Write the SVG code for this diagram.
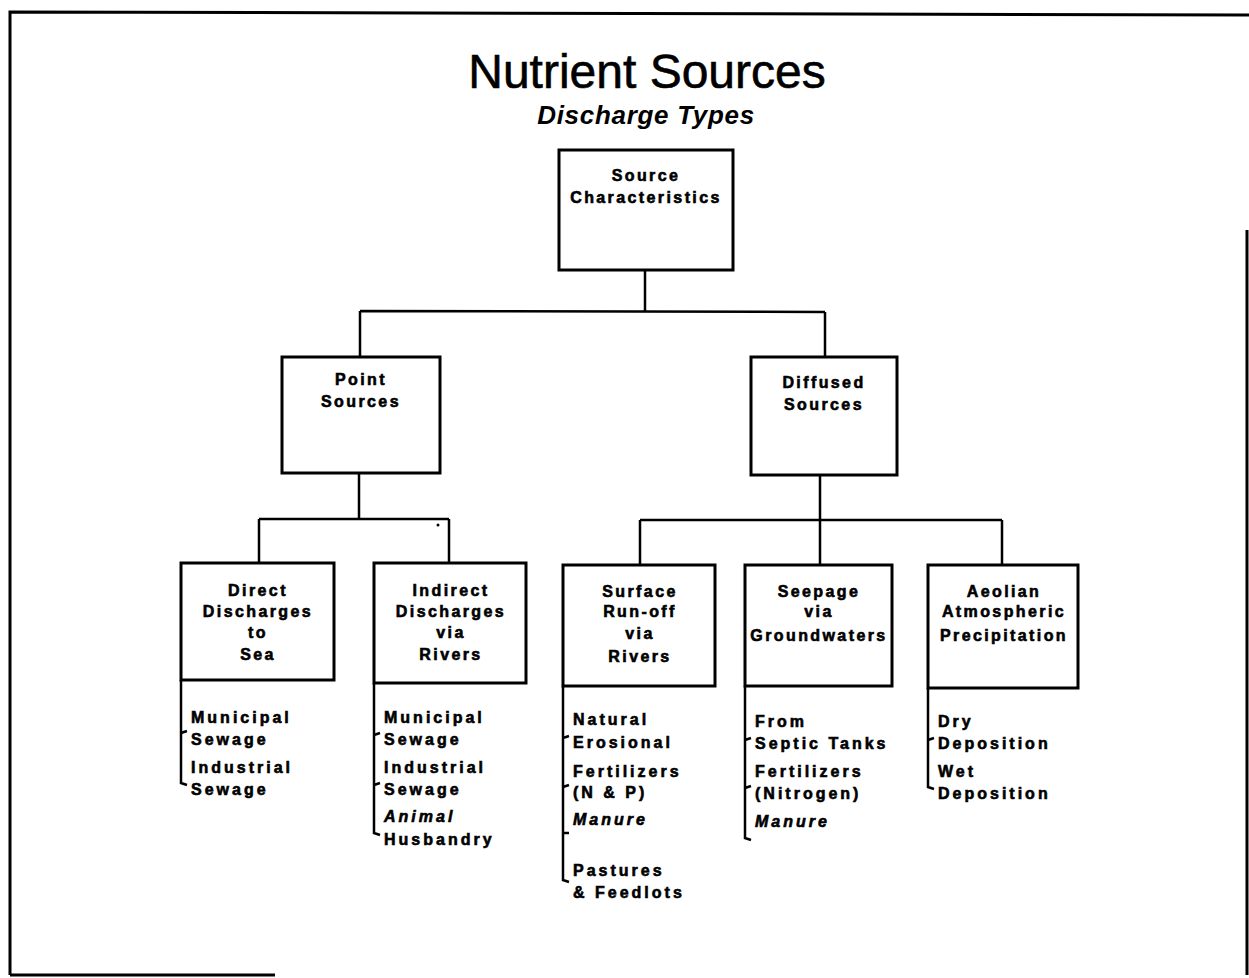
<svg xmlns="http://www.w3.org/2000/svg" width="1249" height="978" viewBox="0 0 1249 978">
<style>
.frame{fill:none;stroke:#000;stroke-width:3}
.box{fill:#fff;stroke:#000;stroke-width:3}
.ln{fill:none;stroke:#000;stroke-width:2.5}
.br{fill:none;stroke:#000;stroke-width:2.5}
.lbl{font-family:"Liberation Sans",Arial,sans-serif;font-weight:bold;font-size:16px;letter-spacing:2.4px;text-anchor:middle;fill:#000;stroke:#000;stroke-width:0.6}
.it{font-family:"Liberation Sans",Arial,sans-serif;font-weight:bold;font-size:16px;letter-spacing:3px;fill:#000;stroke:#000;stroke-width:0.6}
.itl{font-style:italic}
.title{font-family:"Liberation Sans",Arial,sans-serif;font-size:48px;text-anchor:middle;fill:#000;stroke:#000;stroke-width:0.6}
.sub{font-family:"Liberation Sans",Arial,sans-serif;font-weight:bold;font-style:italic;font-size:26px;letter-spacing:0.7px;text-anchor:middle;fill:#000}
</style>
<rect width="1249" height="978" fill="#fff"/>
<path class="frame" d="M10,975 L10,12 L1249,15 M1247,230 L1247,975 M10,975 L275,975"/>
<text class="title" x="647" y="88">Nutrient Sources</text>
<text class="sub" x="646" y="124">Discharge Types</text>
<g id="connectors">
<path class="ln" d="M645,270 L645,311 M360,311 L825,312 M360,311 L360,357 M825,312 L825,357"/>
<path class="ln" d="M359,473 L359,519 M259,519 L449,519 M259,519 L259,563 M449,519 L449,563"/>
<path class="ln" d="M820,475 L820,520 M640,520 L1002,520 M640,520 L640,565 M820,520 L820,565 M1002,520 L1002,565"/>
<circle cx="438" cy="525" r="1.5" fill="#000"/>
</g>
<g id="n-source"><rect class="box" x="559" y="150" width="174" height="120"/>
<text class="lbl" x="646" y="181">Source</text><text class="lbl" x="646" y="203">Characteristics</text></g>
<g id="n-point"><rect class="box" x="282" y="357" width="158" height="116"/>
<text class="lbl" x="361" y="385">Point</text><text class="lbl" x="361" y="407">Sources</text></g>
<g id="n-diffused"><rect class="box" x="751" y="357" width="146" height="118"/>
<text class="lbl" x="824" y="388">Diffused</text><text class="lbl" x="824" y="410">Sources</text></g>
<g id="n-direct"><rect class="box" x="181" y="563" width="153" height="117"/>
<text class="lbl" x="258" y="596">Direct</text><text class="lbl" x="258" y="617">Discharges</text><text class="lbl" x="258" y="638">to</text><text class="lbl" x="258" y="660">Sea</text></g>
<g id="n-indirect"><rect class="box" x="374" y="563" width="152" height="120"/>
<text class="lbl" x="451" y="596">Indirect</text><text class="lbl" x="451" y="617">Discharges</text><text class="lbl" x="451" y="638">via</text><text class="lbl" x="451" y="660">Rivers</text></g>
<g id="n-surface"><rect class="box" x="563" y="565" width="152" height="121"/>
<text class="lbl" x="640" y="597">Surface</text><text class="lbl" x="640" y="617">Run-off</text><text class="lbl" x="640" y="639">via</text><text class="lbl" x="640" y="662">Rivers</text></g>
<g id="n-seepage"><rect class="box" x="745" y="565" width="147" height="121"/>
<text class="lbl" x="819" y="597">Seepage</text><text class="lbl" x="819" y="617">via</text><text class="lbl" x="819" y="641">Groundwaters</text></g>
<g id="n-aeolian"><rect class="box" x="928" y="565" width="150" height="123"/>
<text class="lbl" x="1004" y="597">Aeolian</text><text class="lbl" x="1004" y="617">Atmospheric</text><text class="lbl" x="1004" y="641">Precipitation</text></g>
<g id="l-direct">
<path class="br" d="M181,680 L181,783 L187,785 M181,733 L187,731"/>
<text class="it" x="191" y="723">Municipal</text><text class="it" x="191" y="745">Sewage</text>
<text class="it" x="191" y="773">Industrial</text><text class="it" x="191" y="795">Sewage</text></g>
<g id="l-indirect">
<path class="br" d="M374,683 L374,833 L380,835 M374,735 L380,733 M374,785 L380,783"/>
<text class="it" x="384" y="723">Municipal</text><text class="it" x="384" y="745">Sewage</text>
<text class="it" x="384" y="773">Industrial</text><text class="it" x="384" y="795">Sewage</text>
<text class="it itl" x="384" y="822">Animal</text><text class="it" x="384" y="845">Husbandry</text></g>
<g id="l-surface">
<path class="br" d="M563,686 L563,880 L569,882 M563,738 L569,736 M563,787 L569,785 M563,833 L569,833"/>
<text class="it" x="573" y="725">Natural</text><text class="it" x="573" y="748">Erosional</text>
<text class="it" x="573" y="777">Fertilizers</text><text class="it" x="573" y="798">(N &amp; P)</text>
<text class="it itl" x="573" y="825">Manure</text>
<text class="it" x="573" y="876">Pastures</text><text class="it" x="573" y="898">&amp; Feedlots</text></g>
<g id="l-seepage">
<path class="br" d="M745,686 L745,838 L751,840 M745,740 L751,738 M745,788 L751,786"/>
<text class="it" x="755" y="727">From</text><text class="it" x="755" y="749">Septic Tanks</text>
<text class="it" x="755" y="777">Fertilizers</text><text class="it" x="755" y="799">(Nitrogen)</text>
<text class="it itl" x="755" y="827">Manure</text></g>
<g id="l-aeolian">
<path class="br" d="M928,688 L928,787 L934,789 M928,740 L934,738"/>
<text class="it" x="938" y="727">Dry</text><text class="it" x="938" y="749">Deposition</text>
<text class="it" x="938" y="777">Wet</text><text class="it" x="938" y="799">Deposition</text></g>
</svg>
